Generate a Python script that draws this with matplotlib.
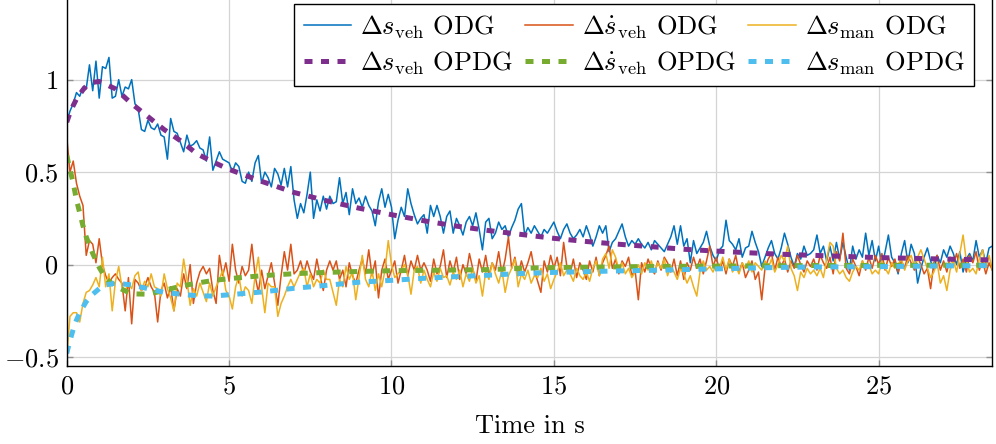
import numpy as np
import matplotlib
matplotlib.use("Agg")
import matplotlib.pyplot as plt

plt.rcParams['font.family'] = 'cmr10'
plt.rcParams['mathtext.fontset'] = 'cm'
plt.rcParams['axes.formatter.use_mathtext'] = True
plt.rcParams['axes.unicode_minus'] = True

dt = 0.1  # sampling of ODG series in s

ds_veh_odg = [
    0.77, 0.83, 0.87, 0.93, 0.91, 0.96, 0.95, 1.08, 0.94, 1.10,
    0.90, 1.07, 1.06, 1.12, 0.90, 0.91, 1.00, 0.91, 0.96, 0.95,
    1.00, 0.87, 0.84, 0.73, 0.72, 0.78, 0.74, 0.73, 0.76, 0.70,
    0.69, 0.57, 0.79, 0.72, 0.71, 0.66, 0.61, 0.70, 0.64, 0.65,
    0.67, 0.63, 0.62, 0.56, 0.69, 0.51, 0.56, 0.61, 0.57, 0.56,
    0.55, 0.50, 0.55, 0.53, 0.45, 0.44, 0.50, 0.45, 0.55, 0.59,
    0.44, 0.50, 0.47, 0.42, 0.52, 0.49, 0.43, 0.52, 0.42, 0.53,
    0.35, 0.25, 0.33, 0.28, 0.38, 0.50, 0.25, 0.35, 0.29, 0.37,
    0.30, 0.37, 0.33, 0.34, 0.47, 0.33, 0.39, 0.27, 0.41, 0.33,
    0.36, 0.31, 0.37, 0.32, 0.29, 0.21, 0.34, 0.41, 0.31, 0.38,
    0.31, 0.14, 0.24, 0.31, 0.26, 0.41, 0.33, 0.27, 0.22, 0.25,
    0.27, 0.17, 0.32, 0.26, 0.32, 0.26, 0.17, 0.26, 0.29, 0.17,
    0.25, 0.21, 0.16, 0.23, 0.26, 0.21, 0.28, 0.19, 0.08, 0.23,
    0.25, 0.14, 0.17, 0.23, 0.19, 0.21, 0.15, 0.20, 0.24, 0.30,
    0.33, 0.16, 0.20, 0.17, 0.21, 0.18, 0.15, 0.19, 0.17, 0.20,
    0.23, 0.18, 0.14, 0.19, 0.22, 0.17, 0.14, 0.16, 0.19, 0.15,
    0.21, 0.16, 0.10, 0.15, 0.21, 0.17, 0.21, 0.07, 0.12, 0.14,
    0.18, 0.22, 0.15, 0.10, 0.13, 0.11, 0.14, 0.11, 0.09, 0.12,
    0.08, 0.13, 0.11, 0.09, 0.07, 0.11, 0.15, 0.21, 0.11, 0.21,
    0.10, 0.14, 0.01, 0.13, 0.06, 0.09, 0.12, 0.18, 0.10, 0.05,
    0.02, 0.08, 0.10, 0.24, 0.13, 0.11, 0.08, 0.14, 0.04, 0.09,
    0.10, 0.18, 0.12, 0.07, -0.01, 0.04, 0.09, 0.13, 0.06, 0.03,
    0.09, 0.17, 0.11, 0.04, -0.01, 0.06, 0.03, 0.10, 0.05, 0.06,
    0.08, 0.16, 0.06, 0.10, 0.02, 0.10, 0.02, 0.12, 0.03, 0.12,
    0.04, -0.03, 0.10, 0.03, 0.08, 0.04, 0.17, 0.05, 0.13, 0.02,
    0.10, -0.01, 0.07, 0.16, 0.04, 0.01, -0.05, 0.06, 0.13, 0.01,
    0.11, 0.06, -0.10, -0.02, 0.04, 0.09, 0.02, -0.03, 0.05, 0.01,
    0.08, 0.04, 0.10, 0.06, 0.00, 0.07, -0.04, 0.03, 0.06, 0.02,
    0.13, 0.04, 0.08, 0.01, 0.09, 0.10,
]

dsdot_veh_odg = [
    0.69, 0.50, 0.56, 0.44, 0.37, 0.32, 0.05, 0.13, 0.11, 0.01,
    0.14, 0.00, -0.06, -0.10, -0.07, -0.05, -0.08, -0.10, -0.25, -0.07,
    -0.32, -0.08, -0.10, -0.14, -0.12, -0.07, -0.12, -0.15, -0.31, -0.14,
    -0.10, -0.18, -0.12, -0.25, -0.13, -0.17, -0.05, -0.13, 0.00, -0.21,
    -0.10, -0.04, -0.01, -0.05, -0.02, -0.14, -0.21, 0.05, -0.06, 0.01,
    -0.09, 0.11, -0.03, -0.10, -0.01, -0.06, -0.03, 0.11, -0.06, -0.15,
    -0.03, -0.13, -0.06, 0.01, -0.10, -0.22, -0.06, 0.07, -0.03, 0.11,
    -0.05, -0.03, 0.02, -0.05, 0.02, -0.04, -0.08, 0.03, -0.06, -0.14,
    -0.03, 0.02, -0.03, 0.02, -0.08, -0.03, -0.12, 0.01, -0.06, -0.10,
    -0.03, 0.03, -0.05, 0.08, -0.06, 0.02, -0.18, -0.03, 0.03, -0.08,
    -0.03, 0.02, -0.10, -0.03, 0.05, -0.06, 0.02, -0.03, 0.05, -0.03,
    0.01, -0.03, -0.09, 0.03, -0.05, -0.01, 0.08, -0.07, 0.02, -0.04,
    0.04, -0.08, 0.00, -0.05, 0.06, -0.02, -0.09, 0.03, -0.04, 0.05,
    -0.06, 0.01, -0.03, 0.07, -0.05, 0.03, 0.15, -0.02, 0.04, -0.06,
    0.02, -0.04, 0.01, 0.07, -0.03, -0.09, -0.15, 0.02, -0.04, 0.05,
    -0.02, 0.04, -0.06, 0.12, -0.01, -0.05, 0.03, -0.07, 0.01, -0.03,
    -0.08, 0.02, -0.04, 0.04, -0.06, 0.01, 0.05, 0.10, -0.02, 0.03,
    -0.05, 0.02, -0.01, 0.04, -0.06, -0.03, -0.19, 0.01, -0.04, 0.03,
    -0.02, -0.05, 0.02, -0.03, 0.04, 0.01, -0.04, 0.03, -0.06, 0.02,
    -0.08, 0.01, -0.03, 0.04, -0.02, 0.03, -0.05, 0.02, 0.10, -0.01,
    0.04, -0.03, 0.02, -0.05, 0.03, -0.01, 0.05, -0.04, 0.01, -0.07,
    -0.03, 0.02, -0.08, -0.04, -0.19, -0.02, 0.03, 0.06, -0.03, 0.04,
    -0.01, 0.03, -0.04, 0.02, -0.02, 0.05, 0.00, -0.04, 0.02, -0.01,
    0.03, -0.03, 0.05, 0.01, -0.02, 0.04, -0.05, 0.07, 0.02, 0.17,
    -0.02, -0.05, 0.03, -0.01, -0.06, 0.02, -0.03, 0.04, -0.02, 0.05,
    0.00, 0.06, -0.03, 0.04, -0.01, 0.03, -0.04, 0.02, -0.02, 0.05,
    0.01, -0.03, 0.04, 0.00, -0.05, -0.02, -0.13, 0.01, 0.05, -0.03,
    0.02, -0.04, 0.04, 0.00, 0.06, -0.02, 0.03, -0.04, 0.05, 0.01,
    0.07, -0.03, 0.02, -0.05, 0.01, -0.03,
]

ds_man_odg = [
    -0.50, -0.28, -0.26, -0.26, -0.31, -0.21, -0.15, -0.14, -0.11, -0.07,
    -0.12, 0.04, -0.12, -0.05, -0.25, -0.09, -0.01, -0.12, -0.14, -0.10,
    -0.13, -0.06, -0.04, -0.14, -0.09, -0.12, -0.05, -0.12, -0.13, -0.17,
    -0.05, -0.13, -0.18, -0.25, -0.10, -0.12, 0.03, -0.08, -0.22, -0.13,
    -0.17, -0.10, -0.15, -0.20, -0.10, -0.17, -0.12, -0.08, -0.03, -0.14,
    -0.17, -0.24, -0.12, -0.06, -0.17, -0.12, -0.14, -0.21, -0.06, 0.04,
    -0.12, -0.26, -0.10, -0.12, -0.12, -0.28, -0.21, -0.17, -0.12, -0.08,
    -0.12, -0.08, -0.04, -0.02, -0.12, -0.05, -0.12, -0.08, -0.10, -0.03,
    -0.08, -0.08, -0.15, -0.22, -0.08, -0.12, -0.01, -0.08, -0.04, -0.19,
    -0.07, 0.05, -0.08, -0.12, -0.03, -0.14, -0.05, -0.12, -0.03, 0.13,
    0.00, -0.07, -0.05, -0.03, 0.00, -0.05, -0.16, -0.03, -0.01, -0.10,
    -0.03, -0.08, -0.12, -0.04, -0.09, -0.02, -0.07, -0.06, -0.11, -0.04,
    -0.08, -0.03, -0.12, -0.05, -0.09, -0.02, -0.10, -0.06, -0.17, -0.04,
    -0.08, 0.01, -0.05, -0.10, -0.03, -0.15, -0.06, -0.02, 0.03, -0.12,
    -0.05, -0.08, -0.03, -0.10, -0.06, -0.07, -0.02, -0.09, -0.05, -0.13,
    -0.08, -0.04, 0.01, -0.06, -0.03, -0.05, -0.09, -0.02, -0.06, -0.08,
    -0.04, -0.09, -0.02, 0.02, -0.06, 0.03, 0.06, -0.02, 0.08, 0.04,
    -0.03, 0.01, -0.05, -0.02, -0.07, -0.04, 0.00, -0.05, 0.01, -0.03,
    0.02, -0.04, 0.01, -0.02, 0.03, -0.06, -0.01, -0.04, -0.08, -0.02,
    -0.05, -0.10, -0.06, -0.12, -0.17, -0.04, 0.02, -0.03, -0.01, -0.04,
    0.00, -0.02, 0.04, -0.03, 0.03, -0.04, -0.01, -0.05, 0.01, -0.02,
    0.02, -0.04, 0.01, -0.01, -0.03, 0.02, -0.02, 0.03, -0.04, 0.00,
    0.05, 0.02, 0.10, -0.02, -0.06, -0.14, -0.04, -0.07, -0.02, -0.05,
    -0.03, -0.06, -0.02, -0.07, 0.03, 0.12, 0.10, -0.02, -0.05, -0.03,
    -0.07, -0.09, -0.04, -0.01, -0.03, 0.02, -0.02, 0.00, -0.05, -0.03,
    -0.05, 0.02, -0.02, -0.05, 0.01, -0.02, 0.00, 0.03, -0.03, 0.02,
    0.05, -0.01, 0.04, 0.08, 0.03, -0.02, -0.07, -0.04, 0.01, -0.10,
    -0.06, -0.14, -0.03, 0.02, -0.04, 0.06, 0.16, 0.02, -0.04, -0.02,
    -0.05, 0.03, 0.08, -0.02, 0.05, -0.03,
]

t_opdg = [0, 0.1, 0.2, 0.3, 0.4, 0.5, 0.6, 0.8, 1.0, 1.2, 1.5, 2.0, 2.5, 3.0,
          3.5, 4.0, 4.5, 5, 6, 7, 8, 9, 10, 11, 12, 13, 14, 15, 16, 17, 18,
          19, 20, 21, 22, 23, 24, 25, 26, 27, 28, 28.5]
ds_veh_opdg = [0.77, 0.82, 0.86, 0.895, 0.92, 0.945, 0.965, 0.985, 0.99, 0.975,
               0.95, 0.87, 0.80, 0.73, 0.67, 0.60, 0.555, 0.515, 0.45, 0.39,
               0.345, 0.305, 0.27, 0.237, 0.208, 0.184, 0.163, 0.142, 0.125,
               0.11, 0.097, 0.083, 0.073, 0.064, 0.056, 0.050, 0.044, 0.038,
               0.034, 0.030, 0.027, 0.025]
dsdot_veh_opdg = [0.59, 0.515, 0.44, 0.35, 0.28, 0.21, 0.15, 0.06, -0.015,
                  -0.075, -0.117, -0.158, -0.16, -0.14, -0.117, -0.10, -0.086,
                  -0.076, -0.06, -0.049, -0.042, -0.037, -0.033, -0.031,
                  -0.029, -0.027, -0.020, -0.016, -0.014, -0.012, -0.010,
                  -0.009, -0.008, -0.007, -0.006, -0.005, -0.005, -0.004,
                  -0.004, -0.003, -0.003, -0.003]
ds_man_opdg = [-0.48, -0.41, -0.35, -0.30, -0.26, -0.23, -0.20, -0.16, -0.13,
               -0.11, -0.10, -0.11, -0.13, -0.15, -0.16, -0.168, -0.17, -0.163,
               -0.148, -0.128, -0.112, -0.095, -0.085, -0.074, -0.065, -0.057,
               -0.048, -0.042, -0.038, -0.034, -0.031, -0.027, -0.023, -0.019,
               -0.015, -0.013, -0.012, -0.011, -0.009, -0.007, -0.006, -0.005]

labels = [r'$\Delta s_{\mathrm{veh}}$ ODG', r'$\Delta s_{\mathrm{veh}}$ OPDG',
          r'$\Delta \dot{s}_{\mathrm{veh}}$ ODG', r'$\Delta \dot{s}_{\mathrm{veh}}$ OPDG',
          r'$\Delta s_{\mathrm{man}}$ ODG', r'$\Delta s_{\mathrm{man}}$ OPDG']
xticks = [0, 5, 10, 15, 20, 25]
xticklabels = ['$0$', '$5$', '$10$', '$15$', '$20$', '$25$']
yticks = [-0.5, 0, 0.5, 1]
yticklabels = ['$-0.5$', '$0$', '$0.5$', '$1$']

fig = plt.figure(figsize=(9.96, 4.44), dpi=100)
ax = fig.add_axes([0.067, 0.1757, 0.9293, 0.8243 + 0.004])

def tgrid(v):
    return np.arange(len(v)) * dt

lw_thin = 1.1
lw_dash = 3.6
dash = (1.6, 1.7)
h1, = ax.plot(tgrid(ds_veh_odg), ds_veh_odg, color='#0072BD', lw=lw_thin)
h3, = ax.plot(tgrid(dsdot_veh_odg), dsdot_veh_odg, color='#D95319', lw=lw_thin)
h5, = ax.plot(tgrid(ds_man_odg), ds_man_odg, color='#EDB120', lw=lw_thin)
h2, = ax.plot(t_opdg, ds_veh_opdg, color='#7E2F8E', lw=lw_dash, dashes=dash)
h4, = ax.plot(t_opdg, dsdot_veh_opdg, color='#77AC30', lw=lw_dash, dashes=dash)
h6, = ax.plot(t_opdg, ds_man_opdg, color='#4DBEEE', lw=lw_dash, dashes=dash)

ax.set_xlim(0, 28.5)
ax.set_ylim(-0.548, 1.44)
ax.set_xticks(xticks)
ax.set_xticklabels(xticklabels)
ax.set_yticks(yticks)
ax.set_yticklabels(yticklabels)
ax.grid(True, color='#d4d4d4', lw=0.9)
ax.set_axisbelow(True)
ax.tick_params(direction='in', length=4, width=1.0, color='#909090',
               labelsize=19, top=False, right=True, pad=6)
for s in ['left', 'bottom', 'right']:
    ax.spines[s].set_linewidth(1.0)
ax.spines['top'].set_visible(False)

ax.set_xlabel('Time in s', fontsize=19, labelpad=12)

leg = ax.legend([h1, h2, h3, h4, h5, h6], labels, ncol=3, fontsize=19,
                loc='upper right', bbox_to_anchor=(0.980, 0.984),
                borderaxespad=0, frameon=True, fancybox=False,
                edgecolor='black', framealpha=1, handlelength=1.8,
                handletextpad=0.35, columnspacing=0.45, labelspacing=0.32,
                borderpad=0.35)
leg.get_frame().set_linewidth(1.0)

fig.savefig('out.png', dpi=100)
